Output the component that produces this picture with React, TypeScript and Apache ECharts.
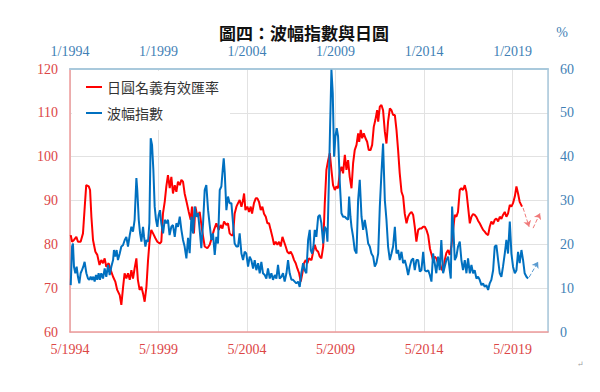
import React, { useEffect, useRef } from "react";
import * as echarts from "echarts";

// months counted from 5/1994
const bottomTickLabels = ["5/1994", "5/1999", "5/2004", "5/2009", "5/2014", "5/2019"];
const topTickLabels = ["1/1994", "1/1999", "1/2004", "1/2009", "1/2014", "1/2019"];

const jpyMonths = [
  0.5, 1.4, 2.7, 4.3, 5.4, 7.2, 8.8, 10, 11, 12.7, 13.6, 14.5, 15.6, 17.2, 18.5, 20, 21.2, 22.4, 23.5, 24.6,
  26.2, 27.6, 29.2, 30.7, 32, 33.7, 34.8, 36, 37, 38.2, 39.3, 40.5, 41.6, 42.7, 43.8, 45, 46, 47.2, 48.4, 49.5,
  50.6, 51.8, 52.9, 54, 55.1, 56.3, 57.9, 59.2, 60.8, 61.9, 63, 64.2, 65.3, 66.4, 67.6, 68.7, 69.8, 71, 72.1, 73.2,
  74.4, 75.5, 76.6, 77.7, 79, 80.5, 81.8, 82.7, 84, 85, 86.3, 87.9, 89.5, 91.3, 93.1, 94.7, 96.3, 97.6, 99.2, 100.8,
  102.1, 103.3, 104.4, 106, 107.1, 108.2, 109.4, 110.5, 111.6, 112.8, 113.9, 115, 116.2, 117.3, 118, 118.9, 120.2, 121.4, 122.5, 123.4,
  124.7, 125.9, 127, 128.1, 129.3, 130.4, 131.5, 132.7, 133.8, 134.9, 136, 137.2, 138.3, 139.4, 140.6, 141.7, 142.8, 144, 145.1, 146.2,
  147.3, 148.5, 149.6, 150.7, 151.9, 153, 154.1, 155.3, 156.4, 157.5, 158.6, 159.8, 160.9, 162, 163.7, 164.8, 165.9, 167, 168.2, 169.3,
  170.4, 171.6, 172.7, 173.8, 175, 176.1, 177.2, 178.3, 179.5, 180.6, 181.7, 182.9, 184, 185.1, 186.3, 187.4, 188.5, 189.6, 190.8, 191.9,
  193, 194.2, 195.3, 196, 197.1, 198, 199.1, 200.3, 201.4, 202.5, 203.7, 204.8, 205.9, 207, 208.2, 208.9, 210, 211.1, 212.2, 213.4,
  214.5, 215.6, 216.8, 217.9, 219, 220.2, 221.3, 222.4, 223.5, 224.7, 225.8, 226.9, 228.1, 229.2, 230.3, 231.5, 232.6, 233.7, 234.8, 236,
  237.1, 238.2, 239.4, 240.5, 241.6, 242.8, 244, 246.1, 247.2, 248.3, 249.5, 250.6, 251.7, 252.9, 254, 255.1, 256.3, 257.4, 258.5, 259.7,
  260.8, 261.9, 263, 264.2, 265.3, 266.4, 267.6, 268.7, 269.8, 271, 272.1, 273.2, 274.3, 275.5, 276.6, 277.7, 278.9, 280, 281.1, 282.2,
  283.4, 284.5, 285.6, 286.8, 287.9, 289, 290.2, 291.3, 292.4, 293.5, 294.7, 295.8, 296.9, 298.1, 299.2, 300.3, 301.5, 302.6, 303.7, 304.8,
  306.4,
];
const jpyValues = [
  82.1, 80.6, 81, 81.7, 80.6, 80.6, 82.5, 88.6, 93.5, 93.2, 92.4, 86.3, 81, 78.3, 77.6, 75.3, 76.4, 75.7, 76.8, 74.9,
  75.7, 74.1, 72.6, 71.5, 69.6, 68.4, 66.2, 70.3, 73.4, 72.2, 73.4, 71.9, 74.1, 72.2, 74.5, 76.8, 71.9, 69.6, 70.3, 68.8,
  66.9, 70.3, 76.4, 81, 83.3, 82.5, 81.4, 80.6, 80.2, 80.6, 87, 89.7, 93.2, 95.8, 92.8, 95.4, 91.6, 93.5, 92, 94.3,
  93.5, 94.7, 94.3, 91.6, 89.7, 87.4, 85.6, 88.6, 82.5, 88.6, 86.3, 87.4, 83.3, 79.5, 79.1, 79.9, 81.7, 83.3, 84.8, 83.3,
  84.4, 83.6, 85.2, 84.4, 84.8, 82.5, 82.1, 82.1, 87, 88.6, 89.4, 90.1, 88.6, 90.1, 91.6, 87.8, 88.6, 87.4, 88.6, 87,
  89.4, 90.5, 90.5, 89.7, 87.8, 88.6, 87, 86.3, 84.8, 84.8, 83.3, 81.7, 79.9, 80.6, 79.9, 80.6, 79.5, 81.7, 80.6, 79.5,
  78.3, 77.9, 78.3, 77.6, 76.4, 75.7, 74.5, 73.4, 71.5, 73.4, 75.7, 76.4, 75.7, 76.8, 76.4, 78.3, 79.9, 78.7, 78.3, 77.2,
  76.8, 79.5, 89.4, 97, 99.2, 100.8, 97, 93.5, 92.4, 93.2, 92.8, 96.6, 97.7, 96.2, 100.4, 97, 99.2, 95.4, 92.8, 98.5,
  101.5, 102.7, 105.3, 103.4, 106.1, 104.2, 105.3, 104.2, 103.4, 101.5, 101.5, 102.7, 106.8, 108.4, 110.6, 108, 111.4, 111.8, 110.6, 105.7,
  103, 108, 111, 110.6, 109.5, 109.5, 106.1, 101.5, 96.2, 92, 90.9, 87, 84.8, 86.3, 87, 87.4, 86.7, 84, 80.6, 83.3,
  83.6, 83.6, 84, 84, 83.3, 82, 79, 76.4, 77.2, 76.8, 75.7, 76, 74.5, 73.8, 76.4, 78, 78.7, 77.6, 79.5, 83.3,
  86.7, 86.3, 87.4, 92.4, 92.8, 92.4, 93.5, 92, 88.6, 84.8, 86.3, 86.9, 86.7, 86.2, 85.4, 84.8, 84, 83.3, 82.9, 82.4,
  82.1, 84, 85.2, 84.6, 85.6, 85.9, 85.2, 86.3, 85.8, 86.7, 87.4, 86.3, 87, 89, 88.6, 89.4, 90.9, 93.2, 91.6, 89.7,
  88.6,
];

const volMonths = [
  0.5, 1.4, 2, 2.7, 3.6, 4.5, 5.4, 6.3, 7.2, 8.1, 9, 9.9, 11.1, 12.2, 13.1, 14, 14.9, 15.8, 16.7, 17.6,
  18.5, 19.4, 20.3, 21.2, 22.4, 23.5, 24.6, 25.8, 26.9, 28, 29.2, 29.8, 30.7, 31.6, 32.5, 33.7, 34.8, 35.9, 37.1, 38.2,
  39.3, 40.5, 41.6, 42.7, 43.8, 45, 45.6, 46.6, 47.5, 48.4, 49.5, 50.2, 51.1, 52, 52.9, 53.8, 54.7, 55.6, 56.5, 57.4,
  58.3, 59.2, 60.1, 61, 61.9, 63.1, 64.2, 65.3, 66.4, 67.5, 68.7, 69.8, 71, 72.1, 73.2, 74.4, 75.5, 76.6, 77.7, 78.9,
  80, 81.1, 82.3, 83.4, 84.5, 85.6, 86.8, 87.9, 89, 90.2, 91.3, 92.4, 93.6, 94.7, 95.8, 96.9, 98.1, 99.2, 100.3, 101.5,
  102.6, 103.5, 104.2, 104.9, 106, 107.1, 108.2, 109.4, 110.5, 111.6, 112.8, 113.9, 115, 116.2, 117.3, 118.4, 119.5, 120.7, 121.8, 122.9,
  124.1, 125.2, 126.3, 127.5, 128.6, 129.7, 130.8, 132, 133.1, 134.2, 135.4, 136.5, 137.6, 138.8, 139.9, 141, 142.1, 143.3, 144.4, 145.5,
  146.7, 147.8, 148.9, 150.1, 151.2, 152.3, 153.4, 154.6, 155.7, 156.8, 158, 159.1, 160.2, 161.4, 162.5, 163.2, 164.1, 165, 165.9, 167,
  168.2, 169.3, 170.4, 171.6, 172.7, 173.8, 174.5, 175.4, 176.3, 177.2, 178.1, 179, 179.9, 180.8, 181.7, 182.9, 184, 185.1, 186.3, 187.4,
  188.5, 189.2, 190.1, 190.8, 191.9, 193, 194.2, 195.3, 196.4, 197.6, 198.7, 199.8, 200.9, 202.1, 203.2, 204.3, 205.5, 206.6, 207.7, 208.9,
  210, 211.1, 212.2, 213.4, 214.5, 215.6, 216.8, 217.9, 219, 220.2, 221.3, 222.4, 223.5, 224.7, 225.8, 226.9, 228.1, 229.2, 230.3, 231.5,
  232.6, 233.7, 234.8, 236, 237.1, 238.2, 239.4, 240.5, 241.6, 242.8, 243.9, 245, 246.1, 247.2, 248.3, 249.5, 250.6, 251.7, 252.9, 254,
  255.1, 256.3, 257.4, 258.1, 259, 259.9, 260.8, 261.9, 263, 264.2, 265.3, 266.4, 267.6, 268.7, 269.8, 271, 272.1, 273.2, 274.3, 275.5,
  276.6, 277.7, 278.9, 280, 281.1, 282.2, 283.4, 284.5, 285.6, 286.8, 287.9, 289, 290.2, 291.3, 292.4, 293.5, 294.7, 295.8, 296.9, 298.1,
  299.2, 300.3, 301.5, 302.6, 303.7, 304.8, 306, 307.1, 308.2, 309.4, 310.5,
];
const volValues = [
  10.7, 19.5, 20.2, 14.9, 13.4, 14.9, 12.6, 11.1, 13.4, 14.1, 14.9, 16, 13.4, 12.2, 11.9, 12.6, 11.9, 12.6, 11.5, 13,
  11.9, 13.4, 11.9, 13.4, 12.2, 14.5, 12.6, 15.3, 13, 14.9, 16.4, 18.7, 17.2, 18.7, 16.4, 17.9, 19.5, 19.8, 21, 21.7,
  19.5, 22.1, 24, 22.9, 25.6, 35.1, 32.4, 25.6, 22.5, 20.6, 24, 21.7, 19.5, 21, 20.6, 24.8, 44.2, 42.7, 37, 28.6,
  25.6, 24, 26.7, 27.8, 24.8, 22.5, 25.6, 24.8, 25.6, 22.1, 24, 24.4, 21.7, 24.8, 24, 26.3, 23.3, 21, 19.5, 16.8,
  21.5, 18, 26.3, 22.5, 28.6, 26.3, 27.1, 23.3, 19.1, 24.8, 32.4, 33.5, 27.8, 24.4, 21, 22.5, 17.6, 21.7, 20.2, 32.4,
  33.2, 37, 39.6, 36.2, 27.8, 30.9, 29.4, 29.4, 24.8, 20.2, 19.5, 19.5, 22.5, 17.9, 16.4, 18.3, 17.9, 14.9, 17.2, 16.4,
  14.5, 16.4, 14.1, 15.7, 13.4, 16, 13.4, 13, 12.2, 14.5, 12.2, 13.4, 11.9, 13, 12.2, 15.3, 12.2, 12.6, 13.4, 11.5,
  13.4, 16.4, 13.4, 11.9, 11.9, 11.5, 11.1, 11.5, 10.3, 13.4, 15.7, 14.1, 13.4, 21, 23.3, 18.7, 17.9, 19.5, 23.3, 21.7,
  26.3, 26.7, 24.8, 20.2, 24, 23.3, 20.6, 33.2, 46.8, 59.8, 54.4, 40, 44.6, 46.5, 44.6, 33.9, 27.1, 26.3, 26.3, 25.9,
  25.6, 30.9, 26.3, 24, 21.7, 18.7, 17.9, 30.1, 34.7, 26.3, 23.3, 25.6, 23.3, 20.2, 19.5, 17.9, 17.2, 14.9, 15.7, 17.9,
  28.6, 36.2, 43, 30.1, 25.6, 19.5, 16.4, 17.9, 19.5, 24, 17.9, 18.7, 16.4, 18.3, 15.7, 16.4, 14.9, 13, 14.9, 16.4,
  16.8, 14.1, 16.4, 16.4, 13.8, 14.1, 18.3, 14.1, 13.8, 14.1, 13, 11.5, 17.9, 15.7, 13.4, 17.2, 14.1, 21, 13.4, 14.9,
  16.4, 17.2, 14.1, 12.2, 28.6, 23.3, 16.4, 17.2, 19.5, 20.6, 16.4, 14.1, 16.4, 13.4, 16.8, 13.4, 15.3, 13.4, 14.1, 12.2,
  12.6, 11.9, 10.7, 11.1, 10.3, 10.7, 9.6, 11.1, 11.9, 14.1, 19.5, 19.8, 16.4, 13.4, 12.6, 14.9, 17.9, 21, 17.9, 25.2,
  17.9, 14.9, 13.4, 14.1, 18.3, 15.7, 18.7, 16.4, 13.4, 12.6, 12.2,
];

// dashed trend arrows: [fromMonth, fromValue, toMonth, toValue]
const jpyArrows = [
  [307.1, 88.3, 311.2, 84.0],
  [313.9, 83.7, 318.6, 87.1],
];
const volArrows = [[311.2, 12.5, 317.3, 16.0]];

const RED = "#FF0000";
const BLUE = "#0070C0";
const RED_LABEL = "#DC4646";
const BLUE_LABEL = "#3F7FB5";
const SERIF = "'Liberation Serif', 'DejaVu Serif', serif";
const CJK = "'Noto Sans CJK TC', 'Noto Sans CJK SC', sans-serif";

export default function App() {
  const ref = useRef<HTMLDivElement>(null);

  useEffect(() => {
    if (!ref.current) return;
    document.body.style.margin = "0";
    const chart = echarts.init(ref.current, undefined, { renderer: "svg" });
    const zip = (xs: number[], ys: number[]) => xs.map((x, i) => [x, ys[i]]);
    const arrowData = (arr: number[][]) =>
      arr.map((a) => ({ coords: [[a[0], a[1]], [a[2], a[3]]] }));

    chart.setOption({
      animation: false,
      backgroundColor: "#fff",
      title: {
        text: "圖四：波幅指數與日圓",
        left: 219,
        top: 24,
        padding: 0,
        textStyle: { fontFamily: CJK, fontSize: 17, fontWeight: "bold", color: "#111" },
      },
      legend: {
        data: ["日圓名義有效匯率", "波幅指數"],
        orient: "vertical",
        left: 72,
        top: 71,
        padding: [9, 11, 10, 14],
        itemGap: 12,
        itemWidth: 16,
        itemHeight: 2,
        icon: "rect",
        backgroundColor: "#fff",
        textStyle: { fontFamily: CJK, fontSize: 14, color: "#333" },
      },
      grid: { left: 70, right: 52, top: 69, bottom: 60, containLabel: false },
      xAxis: [
        {
          type: "value",
          position: "bottom",
          min: 0,
          max: 324,
          interval: 60,
          axisLine: { show: true, onZero: false, lineStyle: { color: "#EE9A9A", width: 1.5 } },
          axisTick: { show: false },
          splitLine: { show: true, lineStyle: { color: "#E2E2E2", width: 1 } },
          axisLabel: {
            color: RED_LABEL,
            fontFamily: SERIF,
            fontSize: 14,
            margin: 10,
            showMaxLabel: false,
            formatter: (v: number) => (v % 60 === 0 ? bottomTickLabels[v / 60] ?? "" : ""),
          },
        },
        {
          type: "value",
          position: "top",
          min: 0,
          max: 324,
          interval: 60,
          axisLine: { show: true, onZero: false, lineStyle: { color: "#A9C9DC", width: 2 } },
          axisTick: { show: false },
          splitLine: { show: false },
          axisLabel: {
            color: BLUE_LABEL,
            fontFamily: SERIF,
            fontSize: 14,
            margin: 11,
            showMaxLabel: false,
            formatter: (v: number) => (v % 60 === 0 ? topTickLabels[v / 60] ?? "" : ""),
          },
        },
      ],
      yAxis: [
        {
          type: "value",
          position: "left",
          min: 60,
          max: 120,
          interval: 10,
          axisLine: { show: true, onZero: false, lineStyle: { color: "#EE9A9A", width: 1.5 } },
          axisTick: { show: false },
          splitLine: { show: true, lineStyle: { color: "#E2E2E2", width: 1 } },
          axisLabel: { color: RED_LABEL, fontFamily: SERIF, fontSize: 14, margin: 12 },
        },
        {
          type: "value",
          position: "right",
          min: 0,
          max: 60,
          interval: 10,
          axisLine: { show: true, onZero: false, lineStyle: { color: "#A9C9DC", width: 1.5 } },
          axisTick: { show: false },
          splitLine: { show: false },
          axisLabel: { color: BLUE_LABEL, fontFamily: SERIF, fontSize: 14, margin: 12 },
        },
      ],
      graphic: [
        {
          type: "text",
          x: 562,
          y: 32,
          style: {
            text: "%",
            fill: BLUE_LABEL,
            font: `14px ${SERIF}`,
            textAlign: "center",
            textVerticalAlign: "middle",
          },
        },
        {
          type: "text",
          x: 580,
          y: 364,
          style: { text: "↵", fill: "#999", font: `8px ${SERIF}`, textAlign: "center", textVerticalAlign: "middle" },
        },
      ],
      series: [
        {
          name: "日圓名義有效匯率",
          type: "line",
          xAxisIndex: 0,
          yAxisIndex: 0,
          data: zip(jpyMonths, jpyValues),
          showSymbol: false,
          symbol: "none",
          lineStyle: { color: RED, width: 2 },
          itemStyle: { color: RED },
          z: 3,
        },
        {
          name: "波幅指數",
          type: "line",
          xAxisIndex: 0,
          yAxisIndex: 1,
          data: zip(volMonths, volValues),
          showSymbol: false,
          symbol: "none",
          lineStyle: { color: BLUE, width: 2 },
          itemStyle: { color: BLUE },
          z: 4,
        },
        {
          type: "lines",
          coordinateSystem: "cartesian2d",
          xAxisIndex: 0,
          yAxisIndex: 0,
          symbol: ["none", "arrow"],
          symbolSize: 6,
          lineStyle: { color: "#F07A7A", width: 1, type: "dashed", opacity: 1 },
          data: arrowData(jpyArrows),
          z: 5,
        },
        {
          type: "lines",
          coordinateSystem: "cartesian2d",
          xAxisIndex: 0,
          yAxisIndex: 1,
          symbol: ["none", "arrow"],
          symbolSize: 6,
          lineStyle: { color: "#5A9BD0", width: 1, type: "dashed", opacity: 1 },
          data: arrowData(volArrows),
          z: 5,
        },
      ],
    });
    return () => chart.dispose();
  }, []);

  return <div ref={ref} style={{ width: 600, height: 392 }} />;
}
